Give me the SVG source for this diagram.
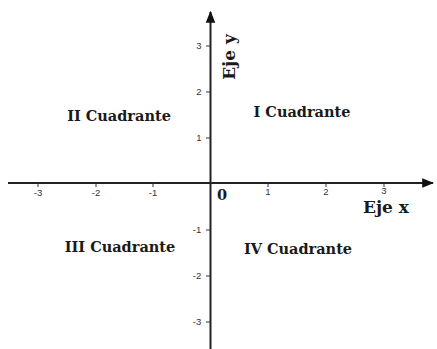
<svg xmlns="http://www.w3.org/2000/svg" width="437" height="349" viewBox="0 0 437 349">
<style>
.ax{stroke:#222;stroke-width:2;fill:none}
.tk{stroke:#333;stroke-width:1}
.tl{font-family:"Liberation Sans",Arial,sans-serif;font-size:9.5px;fill:#333}
.q{font-family:"DejaVu Serif","Liberation Serif",serif;font-weight:bold;font-size:14.5px;fill:#1a1a1a}
.big{font-family:"DejaVu Serif","Liberation Serif",serif;font-weight:bold;font-size:17px;fill:#1a1a1a}
</style>
<defs>
<marker id="ah" viewBox="0 0 10 10" refX="9" refY="5" markerWidth="6" markerHeight="6" markerUnits="strokeWidth" orient="auto">
<path d="M0,1 L10,5 L0,9 Z" fill="#111"/>
</marker>
</defs>
<g id="connectors">
<line id="x-axis" class="ax" x1="8" y1="183" x2="433" y2="183" marker-end="url(#ah)"/>
<line id="y-axis" class="ax" x1="210.5" y1="349" x2="210.5" y2="12" marker-end="url(#ah)"/>
</g>
<g id="x-ticks">
<path class="tk" d="M38,183v4M96,183v4M153,183v4M268,183v4M326,183v4M384,183v4"/>
<text class="tl" x="38" y="196" text-anchor="middle">-3</text>
<text class="tl" x="96" y="196" text-anchor="middle">-2</text>
<text class="tl" x="153" y="196" text-anchor="middle">-1</text>
<text class="tl" x="268" y="195" text-anchor="middle">1</text>
<text class="tl" x="326" y="195" text-anchor="middle">2</text>
<text class="tl" x="384" y="194" text-anchor="middle">3</text>
</g>
<g id="y-ticks">
<path class="tk" d="M206,46h4M206,92h4M206,138h4M206,230h4M206,276h4M206,322h4"/>
<text class="tl" x="199" y="49" text-anchor="middle">3</text>
<text class="tl" x="199" y="95" text-anchor="middle">2</text>
<text class="tl" x="199" y="141" text-anchor="middle">1</text>
<text class="tl" x="197" y="233" text-anchor="middle">-1</text>
<text class="tl" x="197" y="279" text-anchor="middle">-2</text>
<text class="tl" x="197" y="325" text-anchor="middle">-3</text>
</g>
<g id="origin"><text class="q" x="222" y="200" text-anchor="middle" font-size="15">0</text></g>
<g id="eje-x"><text class="big" x="386" y="213" text-anchor="middle">Eje x</text></g>
<g id="eje-y"><text class="big" transform="translate(235,57) rotate(-90)" text-anchor="middle">Eje y</text></g>
<g id="q1"><text class="q" x="302" y="117" text-anchor="middle">I Cuadrante</text></g>
<g id="q2"><text class="q" x="119" y="121" text-anchor="middle">II Cuadrante</text></g>
<g id="q3"><text class="q" x="120" y="252" text-anchor="middle">III Cuadrante</text></g>
<g id="q4"><text class="q" x="298" y="254" text-anchor="middle">IV Cuadrante</text></g>
</svg>
